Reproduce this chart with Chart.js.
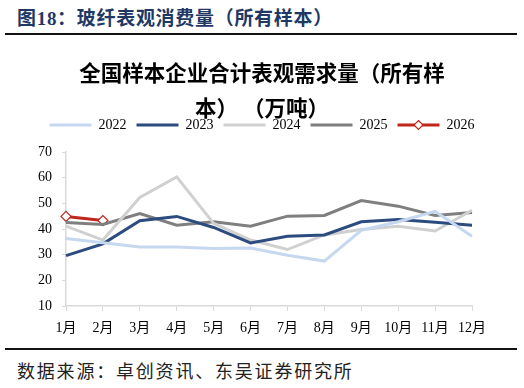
<!DOCTYPE html>
<html>
<head>
<meta charset="utf-8">
<script src="https://cdn.jsdelivr.net/npm/chart.js@4/dist/chart.umd.min.js"></script>
<style>
  html, body { margin: 0; padding: 0; background: #fff; }
  body { width: 524px; height: 388px; position: relative; overflow: hidden; }
  .head {
    position: absolute; left: 17px; top: 3px;
    font: bold 19px 'Liberation Serif', 'Noto Sans CJK SC', serif;
    color: #1f3864; letter-spacing: 0.7px; white-space: nowrap;
  }
  .rule { position: absolute; left: 5px; width: 512px; height: 2px; background: #111; }
  .src {
    position: absolute; left: 17px; top: 357px;
    font: 18px 'Noto Sans CJK SC', sans-serif; color: #222;
    letter-spacing: 1.8px; white-space: nowrap;
  }
  #wrap { position: absolute; left: 0; top: 40px; width: 524px; height: 305px; }
</style>
</head>
<body>
<div class="head">图18：玻纤表观消费量（所有样本）</div>
<div class="rule" style="top:33px"></div>
<div id="wrap"><canvas id="c" width="524" height="305"></canvas></div>
<div class="rule" style="top:348px"></div>
<div class="src">数据来源：卓创资讯、东吴证券研究所</div>
<script>
const months = ['1月', '2月', '3月', '4月', '5月', '6月', '7月', '8月', '9月', '10月', '11月', '12月'];
const years = ['2022', '2023', '2024', '2025', '2026'];
const v2022 = [36.3, 34.6, 33.0, 33.0, 32.4, 32.6, 29.8, 27.5, 39.5, 42.8, 46.9, 37.2];
const v2023 = [29.6, 34.2, 43.2, 44.9, 40.6, 34.6, 37.2, 37.7, 42.8, 43.7, 42.6, 41.5];
const v2024 = [41.1, 35.7, 52.3, 60.3, 42.2, 35.7, 32.0, 37.7, 39.8, 41.1, 39.2, 47.3];
const v2025 = [42.5, 41.8, 46.0, 41.5, 42.8, 41.1, 45.0, 45.3, 51.1, 48.9, 45.3, 46.4];
const v2026 = [44.9, 43.3];
const yTicks = [10, 20, 30, 40, 50, 60, 70];
const lineColors = ['#c5d8ef', '#2c4c80', '#d0d0d0', '#7f7f7f', '#c0261c'];

const tickFont = { family: "'Liberation Serif', 'Noto Sans CJK SC', serif", size: 14 };

function lineSet(i, data) {
  return {
    label: years[i],
    data,
    borderColor: lineColors[i],
    backgroundColor: lineColors[i],
    borderWidth: 3,
    pointRadius: 0,
    tension: 0,
  };
}

const ds2026 = Object.assign(lineSet(4, v2026), {
  pointRadius: 5,
  pointStyle: 'rectRot',
  pointBackgroundColor: '#fff',
  pointBorderColor: lineColors[4],
  pointBorderWidth: 1.2,
});

// diamond marker on the 2026 legend sample
const legendMarker = {
  id: 'legendMarker',
  afterDraw(chart) {
    const lg = chart.legend;
    const box = lg.legendHitBoxes[4];
    if (!box) return;
    const ctx = chart.ctx;
    const x = box.left + 21, y = box.top + box.height / 2, r = 4.5;
    ctx.save();
    ctx.beginPath();
    ctx.moveTo(x, y - r); ctx.lineTo(x + r, y); ctx.lineTo(x, y + r); ctx.lineTo(x - r, y);
    ctx.closePath();
    ctx.fillStyle = '#fff';
    ctx.fill();
    ctx.lineWidth = 1.2;
    ctx.strokeStyle = lineColors[4];
    ctx.stroke();
    ctx.restore();
  },
};

new Chart(document.getElementById('c'), {
  type: 'line',
  data: {
    labels: months,
    datasets: [lineSet(0, v2022), lineSet(1, v2023), lineSet(2, v2024), lineSet(3, v2025), ds2026],
  },
  options: {
    responsive: false,
    animation: false,
    layout: { padding: 0 },
    plugins: {
      title: {
        display: true,
        text: ['全国样本企业合计表观需求量（所有样', '本） （万吨）'],
        color: '#000',
        font: { family: "'Noto Sans CJK SC', sans-serif", size: 21.5, weight: 'bold', lineHeight: 35 / 21.5 },
        padding: { top: 15.5, bottom: -17.5 },
      },
      legend: {
        display: true,
        position: 'top',
        labels: {
          boxWidth: 42,
          boxHeight: 3,
          padding: 10,
          color: '#000',
          font: tickFont,
          generateLabels: (chart) =>
            chart.data.datasets.map((d, i) => ({
              text: d.label,
              fillStyle: lineColors[i],
              strokeStyle: lineColors[i],
              lineWidth: 0,
              hidden: false,
              datasetIndex: i,
            })),
        },
      },
      tooltip: { enabled: false },
    },
    scales: {
      x: {
        type: 'category',
        offset: false,
        border: { display: true, color: '#d9d9d9', width: 1.5 },
        grid: { display: true, drawOnChartArea: false, drawTicks: true, tickLength: 5, color: '#d9d9d9' },
        ticks: { color: '#000', font: tickFont, padding: 9, maxRotation: 0, autoSkip: false },
        afterFit: (s) => { s.height = 39; },
      },
      xTop: {
        type: 'category',
        axis: 'x',
        position: 'top',
        display: true,
        border: { display: false },
        grid: { display: false },
        ticks: { display: false },
        afterFit: (s) => { s.height = 10; },
      },
      y: {
        min: 10,
        max: 70,
        border: { display: true, color: '#d9d9d9', width: 1.5 },
        grid: { display: true, drawOnChartArea: false, drawTicks: true, tickLength: 4, color: '#d9d9d9' },
        ticks: { color: '#000', font: tickFont, padding: 10, stepSize: 10 },
        afterBuildTicks: (s) => { s.ticks = yTicks.map((v) => ({ value: v })); },
        afterFit: (s) => { s.width = 66; },
      },
      yRight: {
        type: 'linear',
        axis: 'y',
        position: 'right',
        display: true,
        border: { display: false },
        grid: { display: false },
        ticks: { display: false },
        afterFit: (s) => { s.width = 52; },
      },
    },
  },
  plugins: [legendMarker],
});
</script>
</body>
</html>
